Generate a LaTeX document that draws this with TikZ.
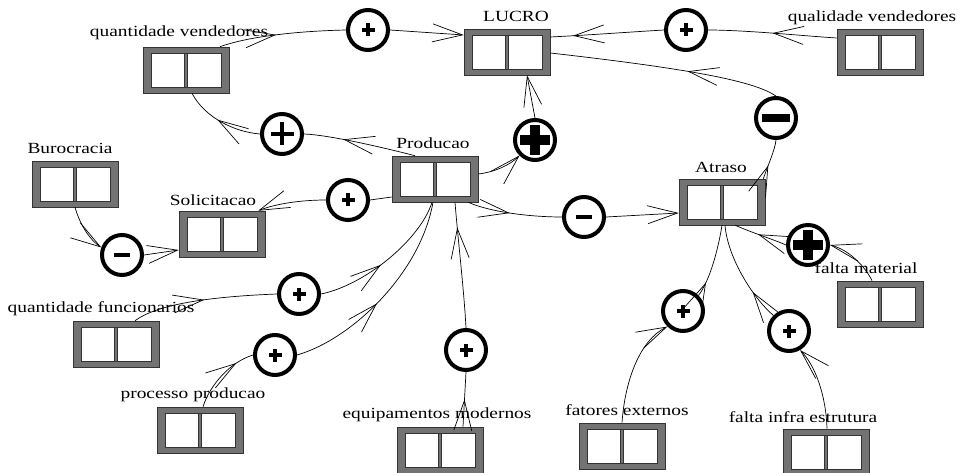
\documentclass[tikz,border=0pt]{standalone}
\usepackage{fontspec}
\setmainfont{Liberation Serif}[FakeStretch=1.25]
\usetikzlibrary{arrows.meta,decorations.markings}

\newcommand\labfont{\fontsize{15.5}{18}\selectfont}
% filled cross and bar drawn in the middle of a sign circle
\newcommand\signcross[2]{%
  \fill[black] ([shift={(-#1,-#2)}]path picture bounding box.center) rectangle ([shift={(#1,#2)}]path picture bounding box.center);
  \fill[black] ([shift={(-#2,-#1)}]path picture bounding box.center) rectangle ([shift={(#2,#1)}]path picture bounding box.center);}
\newcommand\signbar[2]{%
  \fill[black] ([shift={(-#1,-#2)}]path picture bounding box.center) rectangle ([shift={(#1,#2)}]path picture bounding box.center);}

\tikzset{
  barb/.tip={Straight Barb[length=30pt,width=18pt]},
  stockbox/.style={draw=black!80, fill=black!55, line width=0.6pt,
    minimum width=86pt, minimum height=46pt, inner sep=0pt,
    path picture={
      \draw[fill=white, line width=0.7pt]
        ([shift={(8pt,6pt)}]path picture bounding box.south west) rectangle
        ([shift={(-8pt,-6pt)}]path picture bounding box.north east);
      \draw[fill=black!55, line width=0.6pt]
        ([shift={(-1.7pt,6pt)}]path picture bounding box.south) rectangle
        ([shift={(1.7pt,-6pt)}]path picture bounding box.north);}},
  vlabel/.style={font=\labfont, inner sep=0pt},
  sign/.style={circle, draw=black, fill=white, line width=4pt,
    minimum size=40pt, inner sep=0pt},
  splus/.style={sign, path picture={\signcross{6.5pt}{1.7pt}}},
  sminus/.style={sign, path picture={\signbar{8pt}{1.8pt}}},
  bplus/.style={sign, path picture={\signcross{15pt}{5pt}}},
  bminus/.style={sign, path picture={\signbar{14pt}{4pt}}},
  tplus/.style={sign, path picture={\signcross{11.5pt}{2pt}}},
  link/.style={draw=black, line width=0.7pt},
  endtip/.style={-{barb}},
  midtip/.style={postaction={decorate},
    decoration={markings, mark=at position #1 with {\arrow{barb}}}},
}

\begin{document}
\begin{tikzpicture}[x=1pt,y=-1pt]
\useasboundingbox (0,0) rectangle (958,473);

% stocks
\node[stockbox] (qv)     at (186,70)  {};
\node[stockbox] (lucro)  at (507,52)  {};
\node[stockbox] (qual)   at (880,52)  {};
\node[stockbox] (prod)   at (435,179) {};
\node[stockbox] (buro)   at (75,184)  {};
\node[stockbox] (soli)   at (222,234) {};
\node[stockbox] (atraso) at (722,202) {};
\node[stockbox] (fmat)   at (880,304) {};
\node[stockbox] (qf)     at (116,344) {};
\node[stockbox] (pp)     at (200,430) {};
\node[stockbox] (em)     at (440,450) {};
\node[stockbox] (fe)     at (622,446) {};
\node[stockbox] (fi)     at (826,452) {};

% sign circles
\node[splus]  (s1)  at (368,30)  {};
\node[splus]  (s2)  at (686,30)  {};
\node[bminus] (s3)  at (776,118) {};
\node[bplus]  (s4)  at (535,140) {};
\node[tplus]  (s5)  at (282,134) {};
\node[splus]  (s6)  at (348,200) {};
\node[sminus] (s7)  at (122,255) {};
\node[sminus] (s8)  at (584,217) {};
\node[bplus]  (s9)  at (808,245) {};
\node[splus]  (s10) at (299,294) {};
\node[splus]  (s11) at (275,355) {};
\node[splus]  (s12) at (466,350) {};
\node[splus]  (s13) at (683,311) {};
\node[splus]  (s14) at (789,331) {};

% links into LUCRO
\draw[link, midtip=0.45] ([xshift=34pt]qv.north) .. controls (250,36) and (300,31) .. (s1.west);
\draw[link, endtip] (s1.east) -- ([yshift=17pt]lucro.west);
\draw[link, midtip=0.5] ([yshift=14pt]qual.west) .. controls (805,36) and (745,30) .. (s2.east);
\draw[link, midtip=0.8] (s2.west) .. controls (630,32) and (590,35) .. ([yshift=15pt]lucro.east);
\draw[link, midtip=0.35] ([xshift=-2pt]atraso.north east) .. controls (768,165) and (775,150) .. (s3.south);
\draw[link, midtip=0.4] (s3.north) .. controls (755,82) and (700,70) .. ([yshift=-1pt]lucro.east);
\draw[link, endtip] ([yshift=5pt]prod.east) .. controls (495,172) and (510,165) .. (s4.south west);
\draw[link, endtip] (s4.north) -- ([xshift=20pt]lucro.south);

% links out of Producao
\draw[link, midtip=0.65] ([xshift=-20pt]prod.north) .. controls (385,148) and (330,135) .. (s5.east);
\draw[link, midtip=0.55] (s5.west) .. controls (235,132) and (205,118) .. ([xshift=6pt]qv.south);
\draw[link] ([yshift=-18pt]prod.west) -- (s6.east);
\draw[link, endtip] (s6.west) .. controls (300,200) and (275,204) .. ([xshift=-7pt]soli.north east);
\draw[link, midtip=0.45] ([xshift=-10pt]prod.south east) .. controls (490,212) and (530,217) .. (s8.west);
\draw[link, endtip] (s8.east) -- ([yshift=-11pt]atraso.west);

% Burocracia to Solicitacao
\draw[link, endtip] (buro.south) .. controls (80,225) and (90,240) .. (s7.160);
\draw[link, endtip] (s7.east) -- ([yshift=-16pt]soli.west);

% links into Producao
\draw[link, midtip=0.5] ([xshift=19pt]qf.north) .. controls (155,306) and (200,297) .. (s10.west);
\draw[link, midtip=0.45] (s10.east) .. controls (365,285) and (420,240) .. ([xshift=-3pt]prod.south);
\draw[link, midtip=0.75] ([xshift=3pt]pp.north) .. controls (210,385) and (230,362) .. (s11.west);
\draw[link, midtip=0.45] (s11.east) .. controls (350,340) and (420,275) .. ([xshift=-2pt]prod.south);
\draw[link, midtip=0.5] ([xshift=23pt]em.north) -- (s12.south);
\draw[link, midtip=0.8] (s12.north) .. controls (464,290) and (458,240) .. ([xshift=20pt]prod.south);

% links into Atraso
\draw[link, endtip] ([xshift=-8pt]fmat.north) .. controls (866,268) and (850,250) .. (s9.east);
\draw[link, midtip=0.55] (s9.west) .. controls (775,240) and (750,232) .. ([xshift=-30pt]atraso.south east);
\draw[link, endtip] (fe.north) .. controls (625,380) and (640,340) .. (s13.south west);
\draw[link, midtip=0.2] (s13.north east) .. controls (710,280) and (718,250) .. (atraso.south);
\draw[link, endtip] ([xshift=1pt]fi.north) .. controls (826,395) and (815,365) .. (s14.-60);
\draw[link, midtip=0.3] (s14.north west) .. controls (755,300) and (728,260) .. ([xshift=3pt]atraso.south);

% labels
\node[vlabel] (qvl)     at (179,33)  {quantidade vendedores};
\node[vlabel] (lucrol)  at (516,16)  {LUCRO};
\node[vlabel] (quall)   at (872,18)  {qualidade vendedores};
\node[vlabel] (prodl)   at (433,143) {Producao};
\node[vlabel] (burol)   at (70,148)  {Burocracia};
\node[vlabel] (solil)   at (213,200) {Solicitacao};
\node[vlabel] (atrasol) at (721,167) {Atraso};
\node[vlabel] (fmatl)   at (866,268) {falta material};
\node[vlabel] (qfl)     at (101,309) {quantidade funcionarios};
\node[vlabel] (ppl)     at (193,395) {processo producao};
\node[vlabel] (eml)     at (437,415) {equipamentos modernos};
\node[vlabel] (fel)     at (627,410) {fatores externos};
\node[vlabel] (fil)     at (803,417) {falta infra estrutura};
\end{tikzpicture}
\end{document}
